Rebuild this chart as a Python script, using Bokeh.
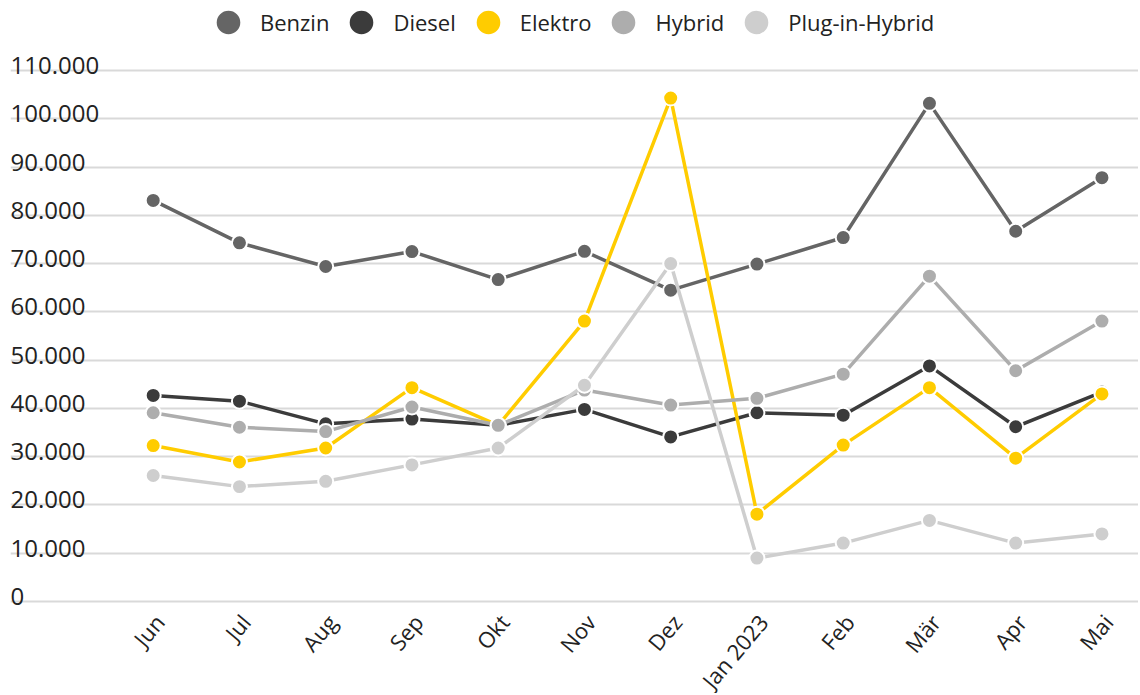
from bokeh.plotting import figure
from bokeh.models import Range1d, Grid, FixedTicker, Legend, LegendItem
from bokeh.core.properties import value
from bokeh.embed import file_html
from bokeh.resources import INLINE

# ---- data ----
months = ["Jun", "Jul", "Aug", "Sep", "Okt", "Nov", "Dez", "Jan 2023", "Feb", "Mär", "Apr", "Mai"]
benzin = [83100, 74300, 69400, 72500, 66700, 72550, 64500, 69900, 75400, 103200, 76700, 87800]
diesel = [42700, 41500, 36800, 37800, 36500, 39800, 34100, 39100, 38600, 48800, 36200, 43400]
elektro = [32300, 28900, 31800, 44300, 36500, 58100, 104300, 18100, 32400, 44300, 29700, 43000]
hybrid = [39100, 36100, 35200, 40300, 36500, 43800, 40700, 42100, 47100, 67400, 47800, 58100]
plugin = [26100, 23800, 24900, 28300, 31800, 44800, 70000, 9000, 12100, 16800, 12100, 14000]
series_names = ["Benzin", "Diesel", "Elektro", "Hybrid", "Plug-in-Hybrid"]
series_colors = ["#656565", "#3b3b3b", "#ffcc00", "#adadad", "#cecece"]
y_ticks = [0, 10000, 20000, 30000, 40000, 50000, 60000, 70000, 80000, 90000, 100000, 110000]
y_tick_labels = ["0", "10.000", "20.000", "30.000", "40.000", "50.000", "60.000",
                 "70.000", "80.000", "90.000", "100.000", "110.000"]

FONT = "Open Sans"
TEXT = "#222222"

x_idx = list(range(len(months)))
X0, X1 = -1.6545, 11.4238
Y0, Y1 = -19059, 124508

p = figure(width=1138, height=693, x_range=Range1d(X0, X1), y_range=Range1d(Y0, Y1),
           x_axis_type=None, y_axis_type=None, output_backend="svg",
           toolbar_location=None, outline_line_color=None,
           min_border_left=10, min_border_right=0, min_border_top=0, min_border_bottom=0,
           background_fill_color="white", border_fill_color="white")

grid = Grid(dimension=1, ticker=FixedTicker(ticks=y_ticks),
            grid_line_color="#d9d9d9", grid_line_width=2)
p.add_layout(grid)

# y tick labels (above gridlines, left aligned inside the plot)
p.text(x=[X0] * len(y_ticks), y=y_ticks, text=y_tick_labels,
       text_font=value(FONT), text_font_size="24px", text_color=TEXT,
       text_align="left", text_baseline="alphabetic", x_offset=0, y_offset=-5)

# x tick labels, rotated
p.text(x=x_idx, y=[0] * len(months), text=months,
       text_font=value(FONT), text_font_size="22px", text_color=TEXT,
       text_align="right", text_baseline="middle", angle=0.87,
       x_offset=6, y_offset=16)

all_series = [benzin, diesel, elektro, hybrid, plugin]
items = []
for name, col, vals in zip(series_names, series_colors, all_series):
    p.line(x=x_idx, y=vals, line_color=col, line_width=3.5)
    r = p.scatter(x=x_idx, y=vals, size=15, fill_color=col, line_color="white", line_width=2)
    items.append(LegendItem(label=name, renderers=[r]))

legend = Legend(items=items, orientation="horizontal", location=(186, 639),
                glyph_width=64, glyph_height=64, label_standoff=0, spacing=0,
                padding=0, margin=0, border_line_alpha=0, background_fill_alpha=0,
                label_text_font=FONT, label_text_font_size="22px", label_text_color=TEXT)
p.add_layout(legend)

open("out.html", "w").write(file_html(p, INLINE))
